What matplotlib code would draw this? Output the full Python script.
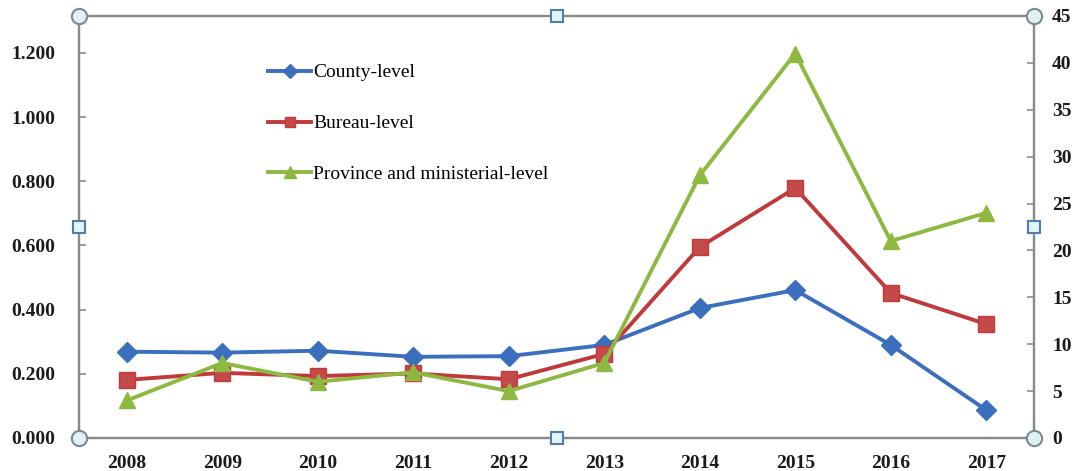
import numpy as np
import matplotlib.pyplot as plt

years = ['2008', '2009', '2010', '2011', '2012', '2013', '2014', '2015', '2016', '2017']
county = [0.269, 0.266, 0.272, 0.253, 0.255, 0.290, 0.405, 0.461, 0.290, 0.087]
bureau = [0.181, 0.203, 0.193, 0.201, 0.183, 0.262, 0.595, 0.779, 0.452, 0.355]
province = [4, 8, 6, 7, 5, 8, 28, 41, 21, 24]

plt.rcParams['font.family'] = ['Liberation Serif', 'DejaVu Serif']

fig = plt.figure(figsize=(10.77, 4.71), dpi=100)
ax = fig.add_axes([79 / 1077, 33 / 471, 955 / 1077, 422 / 471])
ax2 = ax.twinx()

x = np.arange(len(years))
blue, red, green = '#3b6fbe', '#c0393b', '#8db941'

l1, = ax.plot(x, county, color=blue, lw=2.8, marker='D', ms=10,
              mfc=blue, mec=blue, label='County-level', zorder=3)
l2, = ax.plot(x, bureau, color=red, lw=2.8, marker='s', ms=11,
              mfc='#c44a4a', mec=red, label='Bureau-level', zorder=3)
l3, = ax2.plot(x, province, color=green, lw=2.8, marker='^', ms=12,
               mfc=green, mec=green, label='Province and ministerial-level', zorder=3)

ax.set_xlim(-0.5, 9.5)
ax.set_ylim(0, 1.315)
ax2.set_ylim(0, 45)
ax.set_yticks(np.arange(0, 1.21, 0.2))
ax.set_yticklabels([f'{v:.3f}' for v in np.arange(0, 1.21, 0.2)])
ax2.set_yticks(np.arange(0, 46, 5))
ax.set_xticks(x)
ax.set_xticklabels(years)

frame = '#8a8a8a'
for a in (ax, ax2):
    for s in a.spines.values():
        s.set_color(frame)
        s.set_linewidth(1.6)

ax.tick_params(axis='y', direction='in', length=5, width=1.2, color=frame,
               pad=17, labelsize=14, labelcolor='#1a1a1a')
ax2.tick_params(axis='y', direction='in', length=5, width=1.2, color=frame,
                pad=13, labelsize=14, labelcolor='#1a1a1a')
ax.tick_params(axis='x', length=0, pad=12, labelsize=14, labelcolor='#1a1a1a')
for lab in ax.get_xticklabels() + ax.get_yticklabels() + ax2.get_yticklabels():
    lab.set_fontweight('bold')

ax.legend(handles=[l1, l2, l3], loc='upper left', bbox_to_anchor=(0.19, 0.905),
          frameon=False, fontsize=14, labelspacing=1.71, handlelength=2.2,
          handletextpad=0.1, markerscale=0.7, borderaxespad=0)

# selection handles around the chart area
corners = [(0, 0), (1, 0), (0, 1), (1, 1)]
mids = [(0.5, 0), (0.5, 1), (0, 0.5), (1, 0.5)]
for cx, cy in corners:
    ax2.plot(cx, cy, 'o', ms=11, mfc='#dff1f4', mec='#7b8a8f', mew=1.5,
             transform=ax2.transAxes, clip_on=False, zorder=5)
for cx, cy in mids:
    ax2.plot(cx, cy, 's', ms=9, mfc='#e2f5fc', mec='#4f7ea8', mew=1.5,
             transform=ax2.transAxes, clip_on=False, zorder=5)

fig.savefig('out.png', dpi=100)
